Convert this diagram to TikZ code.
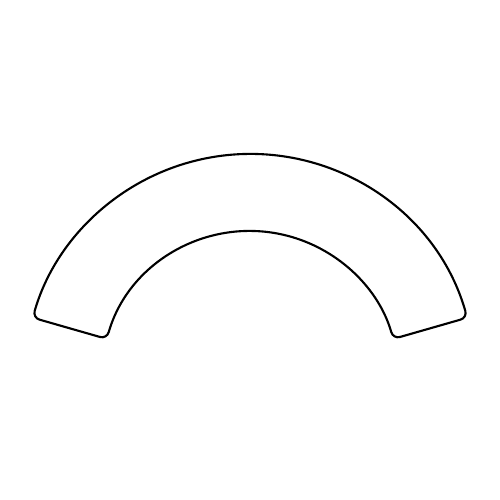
\documentclass[tikz,border=0pt]{standalone}
\usepackage{tikz}

\begin{document}
\begin{tikzpicture}
            % Frame
            \useasboundingbox (0,0) rectangle (10,10);
            \coordinate (centre) at (5,2.4);

            % Arc Band
            \draw[line width=1.2pt, rounded corners=0.14cm, shift={(centre)}]
                (16:4.52) arc[start angle=16, end angle=164, radius=4.52]
                -- (164:2.98) arc[start angle=164, end angle=16, radius=2.98]
                -- cycle;
        \end{tikzpicture}
\end{document}
